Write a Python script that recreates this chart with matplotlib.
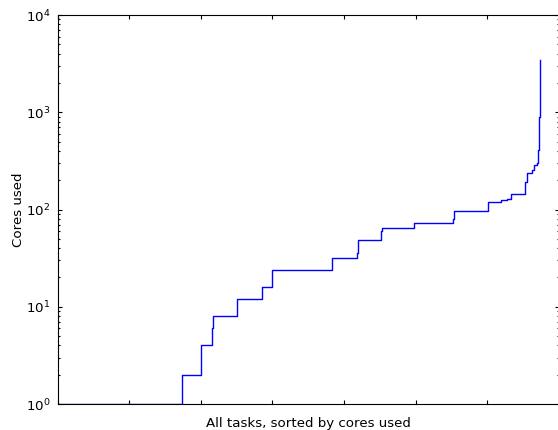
import numpy as np
import matplotlib
matplotlib.use("Agg")
import matplotlib.pyplot as plt

# Task index where each core count begins (tasks sorted by cores used)
task_start = [0, 1733, 1998, 2160, 2174, 2509, 2853, 2992, 3830, 4175, 4193,
              4510, 4528, 4974, 5523, 5532, 6002, 6192, 6268, 6328, 6527,
              6551, 6625, 6653, 6695, 6702, 6709, 6714, 6718, 6722, 6725,
              6728, 6731, 6734, 6736]
cores = [1, 2, 4, 6, 8, 12, 16, 24, 32, 36, 48,
         60, 64, 72, 80, 96, 120, 125, 128, 144, 192,
         240, 256, 288, 300, 350, 410, 500, 612, 750, 900,
         1150, 1600, 2400, 3450]

LW = 0.8
plt.rcParams.update({
    "font.size": 9.6,
    "axes.linewidth": LW,
    "xtick.direction": "in",
    "ytick.direction": "in",
    "xtick.top": True,
    "ytick.right": True,
    "xtick.major.size": 3.2,
    "ytick.major.size": 3.2,
    "xtick.minor.size": 1.6,
    "ytick.minor.size": 1.6,
    "xtick.major.width": LW,
    "ytick.major.width": LW,
    "xtick.minor.width": LW,
    "ytick.minor.width": LW,
    "xtick.major.pad": 5,
    "ytick.major.pad": 5,
})

fig = plt.figure(figsize=(5.58, 4.30), dpi=100)
ax = fig.add_axes([57.5 / 558, 26 / 430, 501.5 / 558, 389 / 430])

ax.step(task_start, cores, where="post", color="b", linewidth=1.0)

ax.set_yscale("log")
ax.set_ylim(1, 1e4)
ax.set_xlim(0, 7000)
ax.xaxis.set_major_locator(matplotlib.ticker.MultipleLocator(1000))
ax.set_xticklabels([])
ax.set_xlabel("All tasks, sorted by cores used")
ax.set_ylabel("Cores used", labelpad=1)

fig.savefig("out.png", dpi=100)
